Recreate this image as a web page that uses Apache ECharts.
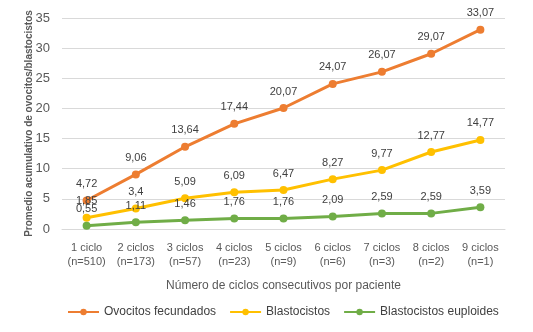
<!DOCTYPE html>
<html>
<head>
<meta charset="utf-8">
<script src="https://cdn.jsdelivr.net/npm/echarts@6/dist/echarts.min.js"></script>
<style>
  html, body { margin: 0; padding: 0; background: #fff; }
  #main { width: 533px; height: 332px; }
</style>
</head>
<body>
<div id="main"></div>
<script>
var categories = [
  "1 ciclo\n(n=510)", "2 ciclos\n(n=173)", "3 ciclos\n(n=57)", "4 ciclos\n(n=23)",
  "5 ciclos\n(n=9)", "6 ciclos\n(n=6)", "7 ciclos\n(n=3)", "8 ciclos\n(n=2)", "9 ciclos\n(n=1)"
];
var ovocitos = [4.72, 9.06, 13.64, 17.44, 20.07, 24.07, 26.07, 29.07, 33.07];
var blastocistos = [1.85, 3.4, 5.09, 6.09, 6.47, 8.27, 9.77, 12.77, 14.77];
var euploides = [0.55, 1.11, 1.46, 1.76, 1.76, 2.09, 2.59, 2.59, 3.59];

var chartDom = document.getElementById("main");
var myChart = echarts.init(chartDom);

var font = "Liberation Sans";
var textColor = "#595959";

function makeSeries(name, data, color) {
  return {
    name: name,
    type: "line",
    data: data,
    symbol: "circle",
    symbolSize: 8,
    lineStyle: { width: 3, color: color },
    itemStyle: { color: color },
    label: {
      show: true,
      position: "top",
      distance: 7,
      color: "#404040",
      fontFamily: font,
      fontSize: 11,
      formatter: function (p) { return String(p.value).replace(".", ","); }
    }
  };
}

var option = {
  animation: false,
  textStyle: { fontFamily: font },
  grid: { left: 62, right: 28, top: 18, bottom: 103, outerBoundsMode: "none" },
  legend: {
    bottom: 9,
    left: 62,
    itemWidth: 31,
    itemHeight: 8,
    itemGap: 13,
    textStyle: { color: "#404040", fontSize: 12, fontFamily: font },
    data: ["Ovocitos fecundados", "Blastocistos", "Blastocistos euploides"]
  },
  xAxis: {
    type: "category",
    data: categories,
    name: "Número de ciclos consecutivos por paciente",
    nameLocation: "middle",
    nameGap: 51,
    nameTextStyle: { color: textColor, fontSize: 12, fontFamily: font },
    axisLine: { lineStyle: { color: "#d9d9d9" } },
    axisTick: { show: false },
    axisLabel: { color: textColor, fontSize: 11, lineHeight: 14, margin: 12, interval: 0 }
  },
  yAxis: {
    type: "value",
    min: 0,
    max: 35,
    interval: 5,
    name: "Promedio acumulativo de ovocitos/blastocistos",
    nameLocation: "middle",
    nameGap: 28,
    nameMoveOverlap: false,
    nameTextStyle: { color: textColor, fontSize: 10, fontWeight: "bold", fontFamily: font },
    axisLine: { show: false },
    axisTick: { show: false },
    axisLabel: { color: textColor, fontSize: 13, margin: 12 },
    splitLine: { lineStyle: { color: "#d9d9d9", width: 1 } }
  },
  series: [
    makeSeries("Ovocitos fecundados", ovocitos, "#ED7D31"),
    makeSeries("Blastocistos", blastocistos, "#FFC000"),
    makeSeries("Blastocistos euploides", euploides, "#70AD47")
  ]
};

option && myChart.setOption(option);
</script>
</body>
</html>
